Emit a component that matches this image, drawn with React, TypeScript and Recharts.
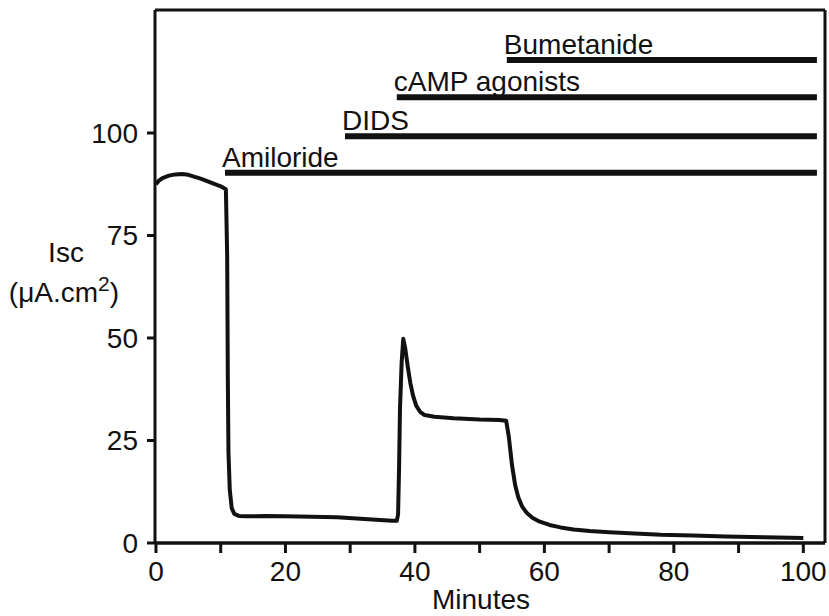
import React from 'react';
import { LineChart, Line, XAxis, YAxis, ReferenceLine, LabelList } from 'recharts';

// Short-circuit current trace (minutes, µA.cm2)
const timeMin = [0, 0.4, 1, 2, 3, 4, 5, 6, 7, 8, 9, 10, 10.8, 11.0, 11.1, 11.2, 11.4, 11.7, 12.1, 12.8, 14, 17, 20, 24, 28, 31, 34, 36.5, 37.2, 37.4, 37.55, 37.7, 37.95, 38.2, 38.5, 38.9, 39.3, 39.7, 40.2, 40.8, 41.5, 43, 46, 50, 53, 54.1, 54.5, 55, 55.5, 56, 56.6, 57.3, 58.2, 59.3, 60.8, 62.5, 64.5, 67, 70, 74, 78, 83, 88, 94, 100];
const iscValues = [87.5, 88.3, 89.0, 89.6, 89.9, 90.0, 89.8, 89.3, 88.8, 88.2, 87.6, 87.0, 86.3, 70, 40, 22, 13, 8.5, 7.1, 6.6, 6.5, 6.6, 6.5, 6.4, 6.3, 6.0, 5.7, 5.4, 5.4, 7, 18, 33, 44, 49.8, 47.5, 43, 39, 36, 33.5, 32, 31.2, 30.8, 30.4, 30.1, 30.0, 29.8, 26, 19, 14, 11, 8.8, 7.3, 6.1, 5.2, 4.4, 3.8, 3.3, 2.9, 2.6, 2.3, 2.0, 1.8, 1.6, 1.4, 1.2];

// Treatment bars
const treatments = ['Amiloride', 'DIDS', 'cAMP agonists', 'Bumetanide'];
const treatmentStart = [10.66, 29.2, 37.2, 54.2];
const treatmentEnd = [102.1, 102.1, 102.1, 102.1];
const treatmentLevel = [90.3, 99.2, 108.7, 117.8];

// Axes
const xTicks = [0, 10, 20, 30, 40, 50, 60, 70, 80, 90, 100];
const xTickLabels = ['0', '', '20', '', '40', '', '60', '', '80', '', '100'];
const yTicks = [0, 25, 50, 75, 100];
const xDomain = [-0.15, 103.35];
const yDomain = [0, 130];

const FONT = '"Liberation Sans", Arial, Helvetica, sans-serif';
const FS = 28;

const traceData = timeMin.map((t, i) => ({ t, isc: iscValues[i] }));
const treatmentData = treatments.map((name, i) => [
  { t: treatmentStart[i], level: treatmentLevel[i], name },
  { t: treatmentEnd[i], level: treatmentLevel[i], name: '' },
]);

const TreatmentLabel = (props: any) => {
  const { x, y, value } = props;
  if (!value) return null;
  return (
    <text x={x - 3} y={y - 6} fontSize={FS} fontFamily={FONT} fill="#111">
      {value}
    </text>
  );
};

const YLabel = () => (
  <g fontFamily={FONT} fill="#111" fontSize={FS}>
    <text x={66} y={262} textAnchor="middle">Isc</text>
    <text x={64} y={302} textAnchor="middle">
      (μA.cm<tspan dy={-11} fontSize={21}>2</tspan>
      <tspan dy={11}>)</tspan>
    </text>
  </g>
);

const XLabel = () => (
  <text x={481} y={609} textAnchor="middle" fontSize={FS} fontFamily={FONT} fill="#111">
    Minutes
  </text>
);

export default function App() {
  return (
    <div style={{ position: 'absolute', left: 0, top: 0, width: 829, height: 616, background: '#fff' }}>
      <LineChart width={829} height={616} margin={{ top: 10, right: 4, bottom: 0, left: 0 }}>
        <XAxis
          dataKey="t"
          type="number"
          domain={xDomain}
          allowDataOverflow
          ticks={xTicks}
          tickFormatter={(v: number) => xTickLabels[xTicks.indexOf(v)] ?? ''}
          height={73}
          tickSize={10}
          tickMargin={8}
          axisLine={{ stroke: '#111', strokeWidth: 3.5 }}
          tickLine={{ stroke: '#111', strokeWidth: 3 }}
          tick={{ fill: '#111', fontSize: FS, fontFamily: FONT }}
          label={<XLabel />}
        />
        <YAxis
          type="number"
          domain={yDomain}
          allowDataOverflow
          ticks={yTicks}
          width={155}
          tickSize={8}
          tickMargin={9}
          axisLine={{ stroke: '#111', strokeWidth: 3 }}
          tickLine={{ stroke: '#111', strokeWidth: 3 }}
          tick={{ fill: '#111', fontSize: FS, fontFamily: FONT }}
          label={<YLabel />}
        />
        <ReferenceLine y={130} stroke="#111" strokeWidth={3} />
        <ReferenceLine x={103.35} stroke="#111" strokeWidth={3} />
        <Line
          data={traceData}
          dataKey="isc"
          type="linear"
          stroke="#111"
          strokeWidth={4}
          dot={false}
          activeDot={false}
          isAnimationActive={false}
          strokeLinejoin="round"
        />
        {treatmentData.map((d, i) => (
          <Line
            key={treatments[i]}
            data={d}
            dataKey="level"
            type="linear"
            stroke="#111"
            strokeWidth={6}
            dot={false}
            activeDot={false}
            isAnimationActive={false}
          >
            <LabelList dataKey="name" content={<TreatmentLabel />} />
          </Line>
        ))}
      </LineChart>
    </div>
  );
}
